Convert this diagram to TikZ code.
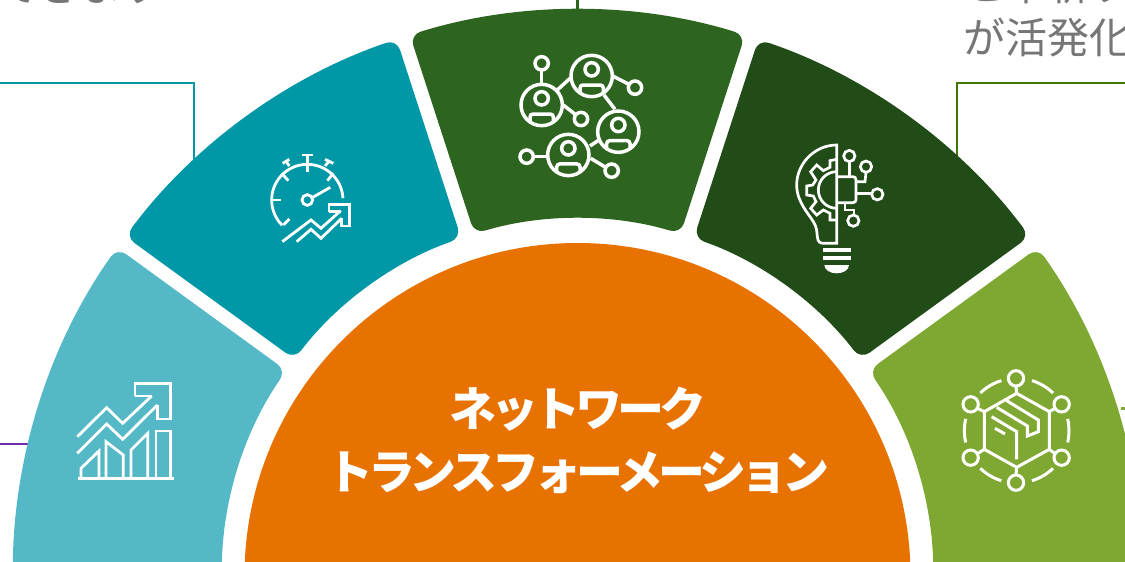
\documentclass[tikz,border=0pt]{standalone}
\usepackage{fontspec}
\setmainfont{Noto Sans CJK JP}
\newfontfamily\titlefont[LetterSpace=-11]{Noto Sans CJK JP}
\definecolor{cLight}{HTML}{54B8C7}
\definecolor{cTeal}{HTML}{0097A6}
\definecolor{cGreen}{HTML}{2D6420}
\definecolor{cDark}{HTML}{214B17}
\definecolor{cOlive}{HTML}{7FA832}
\definecolor{cOrange}{HTML}{E87200}
\definecolor{cPurple}{HTML}{6F2DA8}
\definecolor{cLineGreen}{HTML}{3E7800}
\definecolor{cGray}{HTML}{767676}
\tikzset{
  sectorshape/.style={rounded corners=11pt},
  leader/.style={line width=2.8pt},
  icon/.style={draw=white,line width=#1,line join=miter},
  graytext/.style={text=cGray,inner sep=0pt,font=\fontsize{42}{42}\selectfont},
}
% sector: colour, outer start/end angle, inner end/start angle, outer R, inner R
\newcommand\sectorpath[7]{%
  \fill[#1,sectorshape] ([shift={(#2:#6pt)}]ctr) arc[start angle=#2,end angle=#3,radius=#6pt]
    -- ([shift={(#4:#7pt)}]ctr) arc[start angle=#4,end angle=#5,radius=#7pt] -- cycle;}
\newcommand\personicon[2]{%
  \begin{scope}[shift={(#1,#2)}]
    \draw (0,-20) circle[radius=20];
    \begin{scope}
      \clip (0,0) circle[radius=62];
      \draw[rounded corners=3pt] (-35,27) rectangle (35,66);
    \end{scope}
    \draw (0,0) circle[radius=62];
  \end{scope}}
\begin{document}
\begin{tikzpicture}[x=1pt,y=1pt]
\useasboundingbox (0,0) rectangle (1125,-562);
\clip (0,0) rectangle (1125,-562);
\fill[white] (0,0) rectangle (1125,-562);
\coordinate (ctr) at (577.5,-573.5);
\coordinate (ctrb) at (577.5,-576);

% cut-off texts
\node[graytext,anchor=base west] (tl) at (-4,-1.5) {できます};
\node[graytext,anchor=base west] (tr1) at (963,-1) {と革新す};
\node[graytext,anchor=base west] (tr2) at (963,-53) {が活発化};

% leader lines
\coordinate (a0) at (0,-83); \coordinate (a1) at (194,-83); \coordinate (a2) at (194,-165);
\draw[leader,cTeal] (a0) -- (a1) -- (a2);
\coordinate (b0) at (1125,-83); \coordinate (b1) at (957,-83); \coordinate (b2) at (957,-165);
\draw[leader,cLineGreen] (b0) -- (b1) -- (b2);
\coordinate (c0) at (577.5,0); \coordinate (c1) at (577.5,-20);
\draw[leader,cGreen] (c0) -- (c1);
\coordinate (d0) at (0,-444); \coordinate (d1) at (35,-444);
\draw[leader,cPurple] (d0) -- (d1);
\coordinate (e0) at (1121,-408.5); \coordinate (e1) at (1125,-408.5);
\draw[leader,cOlive] (e0) -- (e1);

% sectors
\sectorpath{cLight}{144.71}{186}{186}{145.13}{564}{355}
\sectorpath{cTeal}{143.29}{108.71}{109.13}{142.87}{564}{355}
\sectorpath{cGreen}{107.29}{72.71}{73.13}{106.87}{564}{355}
\sectorpath{cDark}{71.29}{36.71}{37.13}{70.87}{564}{355}
\sectorpath{cOlive}{35.29}{-6}{-6}{34.87}{564}{355}

% central half disc
\fill[cOrange] (ctrb) circle[radius=333pt];
\node[text=white,align=center,inner sep=0pt,font=\titlefont\fontsize{47}{63}\selectfont\bfseries] (title) at (578,-440) {ネットワーク\\トランスフォーメーション};

% icon 1: growth chart
\begin{scope}[shift={(0pt,-370pt)},x=0.33333pt,y=-0.33333pt,icon=2.8pt]
  \draw (235,325) -- (523,325);
  \draw (405,78) -- (405,40) -- (512,40) -- (512,147) -- (472,147) -- (472,105);
  \draw (455,78) -- (405,78);
  \draw (232,200) -- (320,113) -- (368,160) -- (455,78);
  \draw (232,250) -- (320,162) -- (368,208) -- (472,105);
  \draw (243,325) -- (243,295) -- (297,243) -- (297,325);
  \draw (318,325) -- (318,215) -- (370,255) -- (370,325);
  \draw (393,325) -- (393,240) -- (443,190) -- (443,325);
  \draw (468,325) -- (468,183) -- (512,183) -- (512,325);
\end{scope}

% icon 2: stopwatch
\begin{scope}[shift={(250pt,-140pt)},x=0.33333pt,y=-0.33333pt,icon=2.8pt]
  \draw (172,180) ++(-3:107) arc[start angle=-3,end angle=-225,radius=107];
  \draw (100,255) -- (118,237);
  \draw (62,180) -- (92,180);
  \draw (95,100) -- (115,122);
  \draw (172,45) -- (172,97);
  \draw (155,45) -- (190,45);
  \draw (98,70) -- (118,58);
  \draw (108,64) -- (118,78);
  \draw (225,58) -- (250,70);
  \draw (237,64) -- (225,78);
  \draw (232,122) -- (250,100);
  \draw (172,180) circle[radius=16];
  \draw (188,172) -- (241,142);
  \draw (97,305) -- (183,240) -- (213,265) -- (272,212);
  \draw (140,305) -- (183,268) -- (213,295) -- (275,235);
  \draw (237,215) -- (237,193) -- (298,193) -- (298,258) -- (275,258) -- (275,235);
  \draw (237,215) -- (272,215);
\end{scope}

% icon 3: people network
\begin{scope}[shift={(500pt,-40pt)},x=0.33333pt,y=-0.33333pt,icon=3.5pt]
  \personicon{125}{195}
  \personicon{275}{108}
  \personicon{355}{275}
  \personicon{205}{345}
  \draw (125,70) circle[radius=20];
  \draw (405,143) circle[radius=20];
  \draw (243,237) circle[radius=20];
  \draw (80,350) circle[radius=20];
  \draw (335,392) circle[radius=20];
  \draw (125,90) -- (125,133);
  \draw (172,150) -- (210,115);
  \draw (338,108) -- (387,133);
  \draw (312,165) -- (345,208);
  \draw (190,195) -- (228,225);
  \draw (270,318) -- (297,300);
  \draw (100,350) -- (143,350);
  \draw (272,355) -- (317,382);
\end{scope}

% icon 4: bulb
\begin{scope}[shift={(780pt,-130pt)},x=0.33333pt,y=-0.33333pt,icon=2.7pt]
  \draw (170,45) .. controls (105,45) and (50,100) .. (50,165) .. controls (50,215) and (85,250) .. (100,275)
     .. controls (112,295) and (110,305) .. (112,320) .. controls (113,335) and (120,340) .. (130,340) -- (170,340) -- cycle;
  \draw (170,125) arc[start angle=270,end angle=90,radius=55];
  \draw (170,88) -- (150,92) -- (150,112) -- (130,122) -- (110,105) -- (92,125) -- (108,150) -- (98,165) -- (80,168) -- (80,195) -- (100,198) -- (108,215) -- (92,235) -- (110,255) -- (130,240) -- (150,250) -- (150,270) -- (170,270);
  \draw[rounded corners=3pt] (170,140) -- (228,140) -- (228,218) -- (170,218);
  \draw (208,140) -- (208,95);
  \draw (208,78) circle[radius=17];
  \draw (228,155) -- (255,155) -- (258,127);
  \draw (258,110) circle[radius=17];
  \draw (228,190) -- (275,190);
  \draw (292,193) circle[radius=17];
  \draw (195,218) -- (195,240) -- (222,240) -- (222,255);
  \draw (220,272) circle[radius=17];
  \draw[line width=4pt] (128,360) -- (212,360);
  \draw[line width=4pt] (128,385) -- (212,385);
  \fill[white] (133,405) -- (207,405) arc[start angle=0,end angle=180,x radius=37,y radius=25] -- cycle;
\end{scope}

% icon 5: box in hexagon
\begin{scope}[shift={(950pt,-360pt)},x=0.33333pt,y=-0.33333pt,icon=3pt]
  \draw (200,100) -- (298,155) -- (298,268) -- (200,322) -- (103,268) -- (103,155) -- cycle;
  \foreach \cx/\cy in {198/55,335/133,335/293,198/368,62/293,62/133}{
    \draw (\cx,\cy) circle[radius=23];
  }
  \draw (198,78) -- (200,100);
  \draw (315,145) -- (298,155);
  \draw (315,281) -- (298,268);
  \draw (198,345) -- (200,322);
  \draw (82,281) -- (103,268);
  \draw (82,145) -- (103,155);
  \foreach \sa/\ea in {226/253,287/314,347/373,46/73,107/134,167/193}{
    \draw (200,212) ++(\sa:157) arc[start angle=\sa,end angle=\ea,radius=157];
  }
  \draw (170,122) -- (265,180) -- (265,215) -- (232,228) -- (232,198) -- (140,142);
  \draw (125,170) -- (200,215) -- (200,298);
  \draw (135,205) -- (165,222);
\end{scope}
\end{tikzpicture}
\end{document}
